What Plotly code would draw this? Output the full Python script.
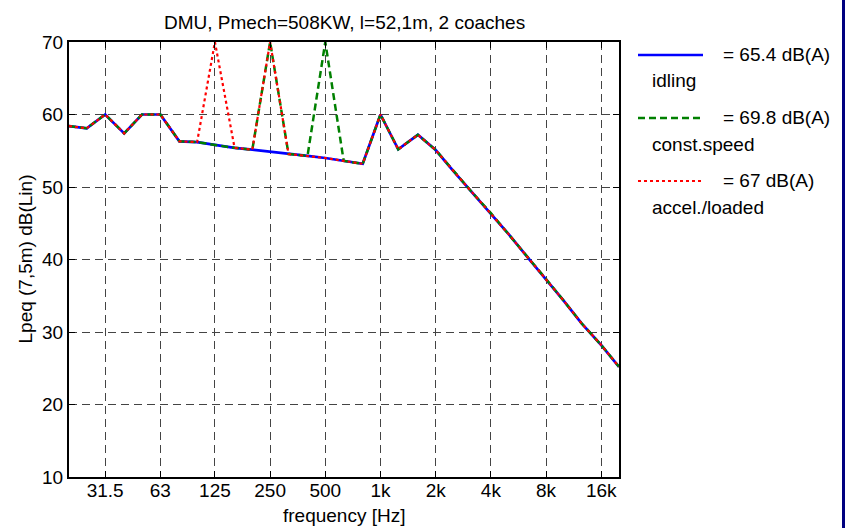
import plotly.graph_objects as go
import numpy as np

# ---- data ----
freqs = [20, 25, 31.5, 40, 50, 63, 80, 100, 125, 160, 200, 250, 315, 400, 500, 630, 800,
         1000, 1250, 1600, 2000, 2500, 3150, 4000, 5000, 6300, 8000, 10000, 12500, 16000, 20000]
idling = [58.4, 58.1, 60.0, 57.4, 60.0, 60.0, 56.3, 56.2, 55.8, 55.4, 55.15, 54.9, 54.55, 54.3,
          54.0, 53.6, 53.2, 60.0, 55.2, 57.2, 55.1, 52.2, 49.3, 46.4, 43.5, 40.4, 37.3, 34.3,
          31.2, 28.2, 25.2]
const_speed = [58.4, 58.1, 60.0, 57.4, 60.0, 60.0, 56.3, 56.2, 55.8, 55.4, 55.15, 70.0, 54.55, 54.3,
               70.0, 53.6, 53.2, 60.0, 55.2, 57.2, 55.1, 52.2, 49.3, 46.4, 43.5, 40.4, 37.3, 34.3,
               31.2, 28.2, 25.2]
accel_loaded = [58.4, 58.1, 60.0, 57.4, 60.0, 60.0, 56.3, 56.2, 70.0, 55.4, 55.15, 70.0, 54.55, 54.3,
                54.0, 53.6, 53.2, 60.0, 55.2, 57.2, 55.1, 52.2, 49.3, 46.4, 43.5, 40.4, 37.3, 34.3,
                31.2, 28.2, 25.2]
series_names = ["idling", "const.speed", "accel./loaded"]
series_dba = ["65.4", "69.8", "67"]
tick_vals = [31.5, 63, 125, 250, 500, 1000, 2000, 4000, 8000, 16000]
tick_text = ["31.5", "63", "125", "250", "500", "1k", "2k", "4k", "8k", "16k"]
y_ticks = [10, 20, 30, 40, 50, 60, 70]

FONT = "Arial, 'Liberation Sans', sans-serif"
FS = 19
W, H = 845, 528
L, R, T, B = 69, 619, 42, 477  # plot area pixel box

colors = ["#0000ff", "#008000", "#ff0000"]
dashes = ["solid", "7px,4px", "3px,3px"]
widths = [2.7, 2.5, 2.2]
series = [idling, const_speed, accel_loaded]

fig = go.Figure()
for s, c, d, w, n in zip(series, colors, dashes, widths, series_names):
    fig.add_trace(go.Scatter(x=freqs, y=s, mode="lines", name=n,
                             line=dict(color=c, dash=d, width=w), showlegend=False))

def px(xp):
    return (xp - L) / (R - L)

def py(yp):
    return (B - yp) / (B - T)

txt = dict(family=FONT, size=FS, color="black")
shapes = []
annotations = []
# manual legend
for i, (c, d, w, n, v) in enumerate(zip(colors, dashes, widths, series_names, series_dba)):
    yl = 55 + i * 63
    shapes.append(dict(type="line", xref="paper", yref="paper",
                       x0=px(638), x1=px(703), y0=py(yl), y1=py(yl),
                       line=dict(color=c, dash=d, width=w)))
    annotations.append(dict(xref="paper", yref="paper", x=px(721), y=py(yl - 0.5),
                            xanchor="left", yanchor="middle", showarrow=False,
                            text="= " + v + " dB(A)", font=txt))
    annotations.append(dict(xref="paper", yref="paper", x=px(650), y=py(yl + 26),
                            xanchor="left", yanchor="middle", showarrow=False,
                            text=n, font=txt))
# title
annotations.append(dict(xref="paper", yref="paper", x=0.5, y=py(22), xanchor="center", yanchor="middle",
                        showarrow=False, text="DMU, Pmech=508KW, l=52,1m, 2 coaches", font=txt))
# axis titles
annotations.append(dict(xref="paper", yref="paper", x=0.5, y=py(515), xanchor="center", yanchor="middle",
                        showarrow=False, text="frequency [Hz]", font=txt))
annotations.append(dict(xref="paper", yref="paper", x=px(25), y=py(259.5), xanchor="center", yanchor="middle",
                        showarrow=False, text="Lpeq (7,5m) dB(Lin)", textangle=-90, font=txt))
# navy right frame
shapes.append(dict(type="rect", xref="paper", yref="paper", x0=px(842), x1=px(848),
                   y0=py(540), y1=py(-10), line=dict(width=0), fillcolor="#000080", layer="above"))

fig.update_layout(
    width=W, height=H,
    margin=dict(l=L, r=W - R, t=T, b=H - B, pad=0),
    paper_bgcolor="white", plot_bgcolor="white",
    font=txt,
    shapes=shapes, annotations=annotations,
    showlegend=False,
)
common = dict(showgrid=True, gridcolor="#444444", griddash="8px,5px", gridwidth=1,
              showline=True, linecolor="black", linewidth=2, mirror="ticks",
              ticks="inside", ticklen=6, tickcolor="black", tickwidth=1,
              zeroline=False, tickfont=txt, automargin=False)
fig.update_xaxes(type="log", range=[np.log10(20), np.log10(20000)],
                 tickvals=tick_vals, ticktext=tick_text, ticklabelstandoff=-5, **common)
fig.update_yaxes(range=[10, 70], tickvals=y_ticks, **common)

fig.write_html("out.html")
